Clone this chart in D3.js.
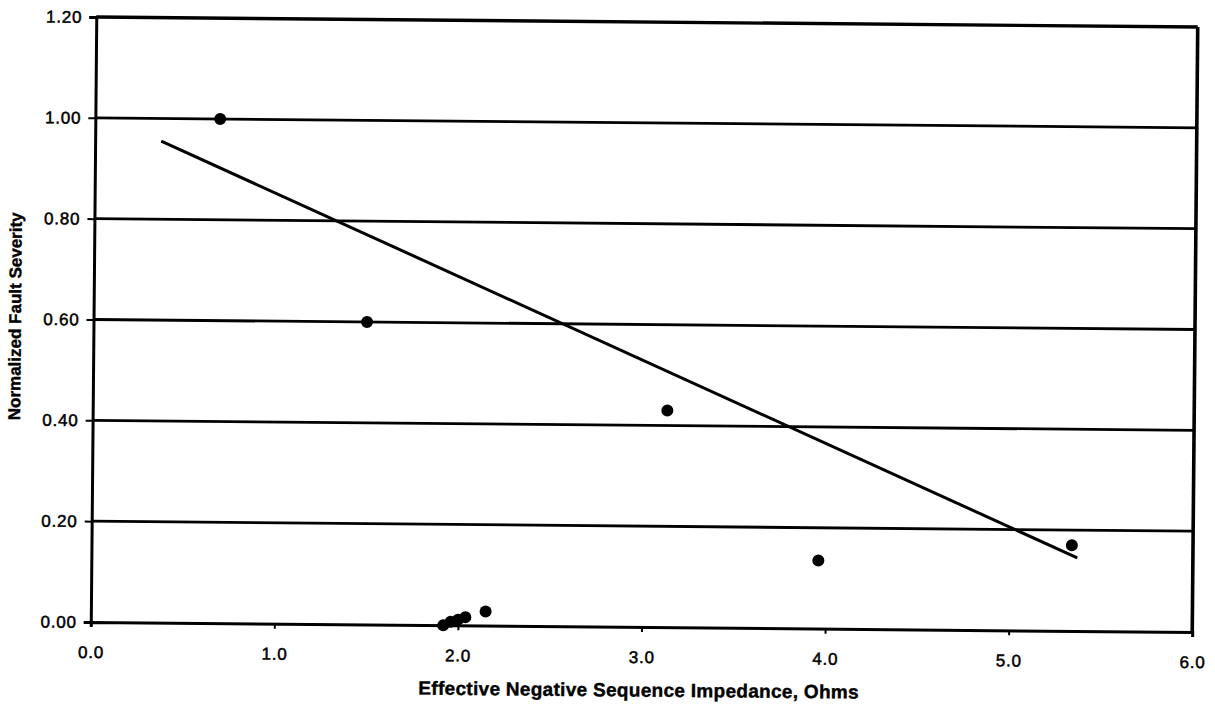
<!DOCTYPE html>
<html>
<head>
<meta charset="utf-8">
<script src="https://cdn.jsdelivr.net/npm/d3@7"></script>
<style>
  body { margin: 0; background: #fff; }
  svg { display: block; font-family: "Liberation Sans", Arial, sans-serif; }
</style>
</head>
<body>
<svg id="chart"></svg>
<script>
// measured points
const impedance = [0.68, 1.49, 3.13, 3.96, 5.34, 1.92, 1.96, 2.00, 2.04, 2.15];
const severity  = [1.00, 0.60, 0.43, 0.135, 0.17, 0.00, 0.007, 0.011, 0.016, 0.028];

// fitted trend line (end points)
const trendX = [0.36, 5.37];
const trendY = [0.955, 0.145];

const xTicks = [0, 1, 2, 3, 4, 5, 6];
const yTicks = [0, 0.2, 0.4, 0.6, 0.8, 1.0, 1.2];

const width = 1215, height = 706;
const margin = { top: 22, right: 20, bottom: 79, left: 93.5 };
const w = width - margin.left - margin.right;
const h = height - margin.top - margin.bottom;

const svg = d3.select('#chart')
  .attr('width', width)
  .attr('height', height);

svg.append('rect').attr('width', width).attr('height', height).attr('fill', '#fff');

// the scan is slightly rotated
const root = svg.append('g')
  .attr('transform', 'rotate(0.52, 644, 324.5)');

const g = root.append('g')
  .attr('transform', `translate(${margin.left},${margin.top})`);

const x = d3.scaleLinear().domain([0, 6]).range([0, w]);
const y = d3.scaleLinear().domain([0, 1.2]).range([h, 0]);

// horizontal grid lines
g.selectAll('.grid')
  .data(yTicks.filter(d => d > 0))
  .enter()
  .append('line')
  .attr('class', 'grid')
  .attr('x1', 0)
  .attr('x2', w)
  .attr('y1', d => y(d))
  .attr('y2', d => y(d))
  .attr('stroke', '#000')
  .attr('stroke-width', d => d === 1.2 ? 3.4 : 2.8);

// right border
g.append('line')
  .attr('x1', w).attr('x2', w)
  .attr('y1', y(1.2)).attr('y2', y(0))
  .attr('stroke', '#000')
  .attr('stroke-width', 3.6);

const yAxis = g.append('g')
  .call(d3.axisLeft(y).tickValues(yTicks).tickFormat(d3.format('.2f')).tickSize(7).tickPadding(7));

const xAxis = g.append('g')
  .attr('transform', `translate(0,${h})`)
  .call(d3.axisBottom(x).tickValues(xTicks).tickFormat(d3.format('.1f')).tickSize(5).tickPadding(19));

[yAxis, xAxis].forEach(a => {
  a.select('.domain').attr('stroke', '#000').attr('stroke-width', 3);
  a.selectAll('.tick line').attr('stroke', '#000').attr('stroke-width', 2);
  a.selectAll('.tick text')
    .attr('fill', '#000')
    .attr('stroke', '#000')
    .attr('stroke-width', 0.5)
    .style('font-size', '17px')
    .style('letter-spacing', '0.8px');
});

// trend line
const line = d3.line().x(d => x(d[0])).y(d => y(d[1]));
g.append('path')
  .datum(trendX.map((v, i) => [v, trendY[i]]))
  .attr('d', line)
  .attr('fill', 'none')
  .attr('stroke', '#000')
  .attr('stroke-width', 3);

// points
g.selectAll('.dot')
  .data(impedance.map((v, i) => [v, severity[i]]))
  .enter()
  .append('circle')
  .attr('class', 'dot')
  .attr('cx', d => x(d[0]))
  .attr('cy', d => y(d[1]))
  .attr('r', 6)
  .attr('fill', '#000');

// axis titles
g.append('text')
  .attr('x', 642 - margin.left)
  .attr('y', h + 63)
  .attr('dy', '0.35em')
  .attr('text-anchor', 'middle')
  .attr('stroke', '#000')
  .attr('stroke-width', 0.4)
  .style('font-size', '19px')
  .style('font-weight', 'bold')
  .style('letter-spacing', '0.3px')
  .text('Effective Negative Sequence Impedance, Ohms');

g.append('text')
  .attr('transform', `translate(${15 - margin.left},${322 - margin.top}) rotate(-90)`)
  .attr('dy', '0.35em')
  .attr('text-anchor', 'middle')
  .attr('stroke', '#000')
  .attr('stroke-width', 0.4)
  .style('font-size', '17px')
  .style('font-weight', 'bold')
  .text('Normalized Fault Severity');
</script>
</body>
</html>
